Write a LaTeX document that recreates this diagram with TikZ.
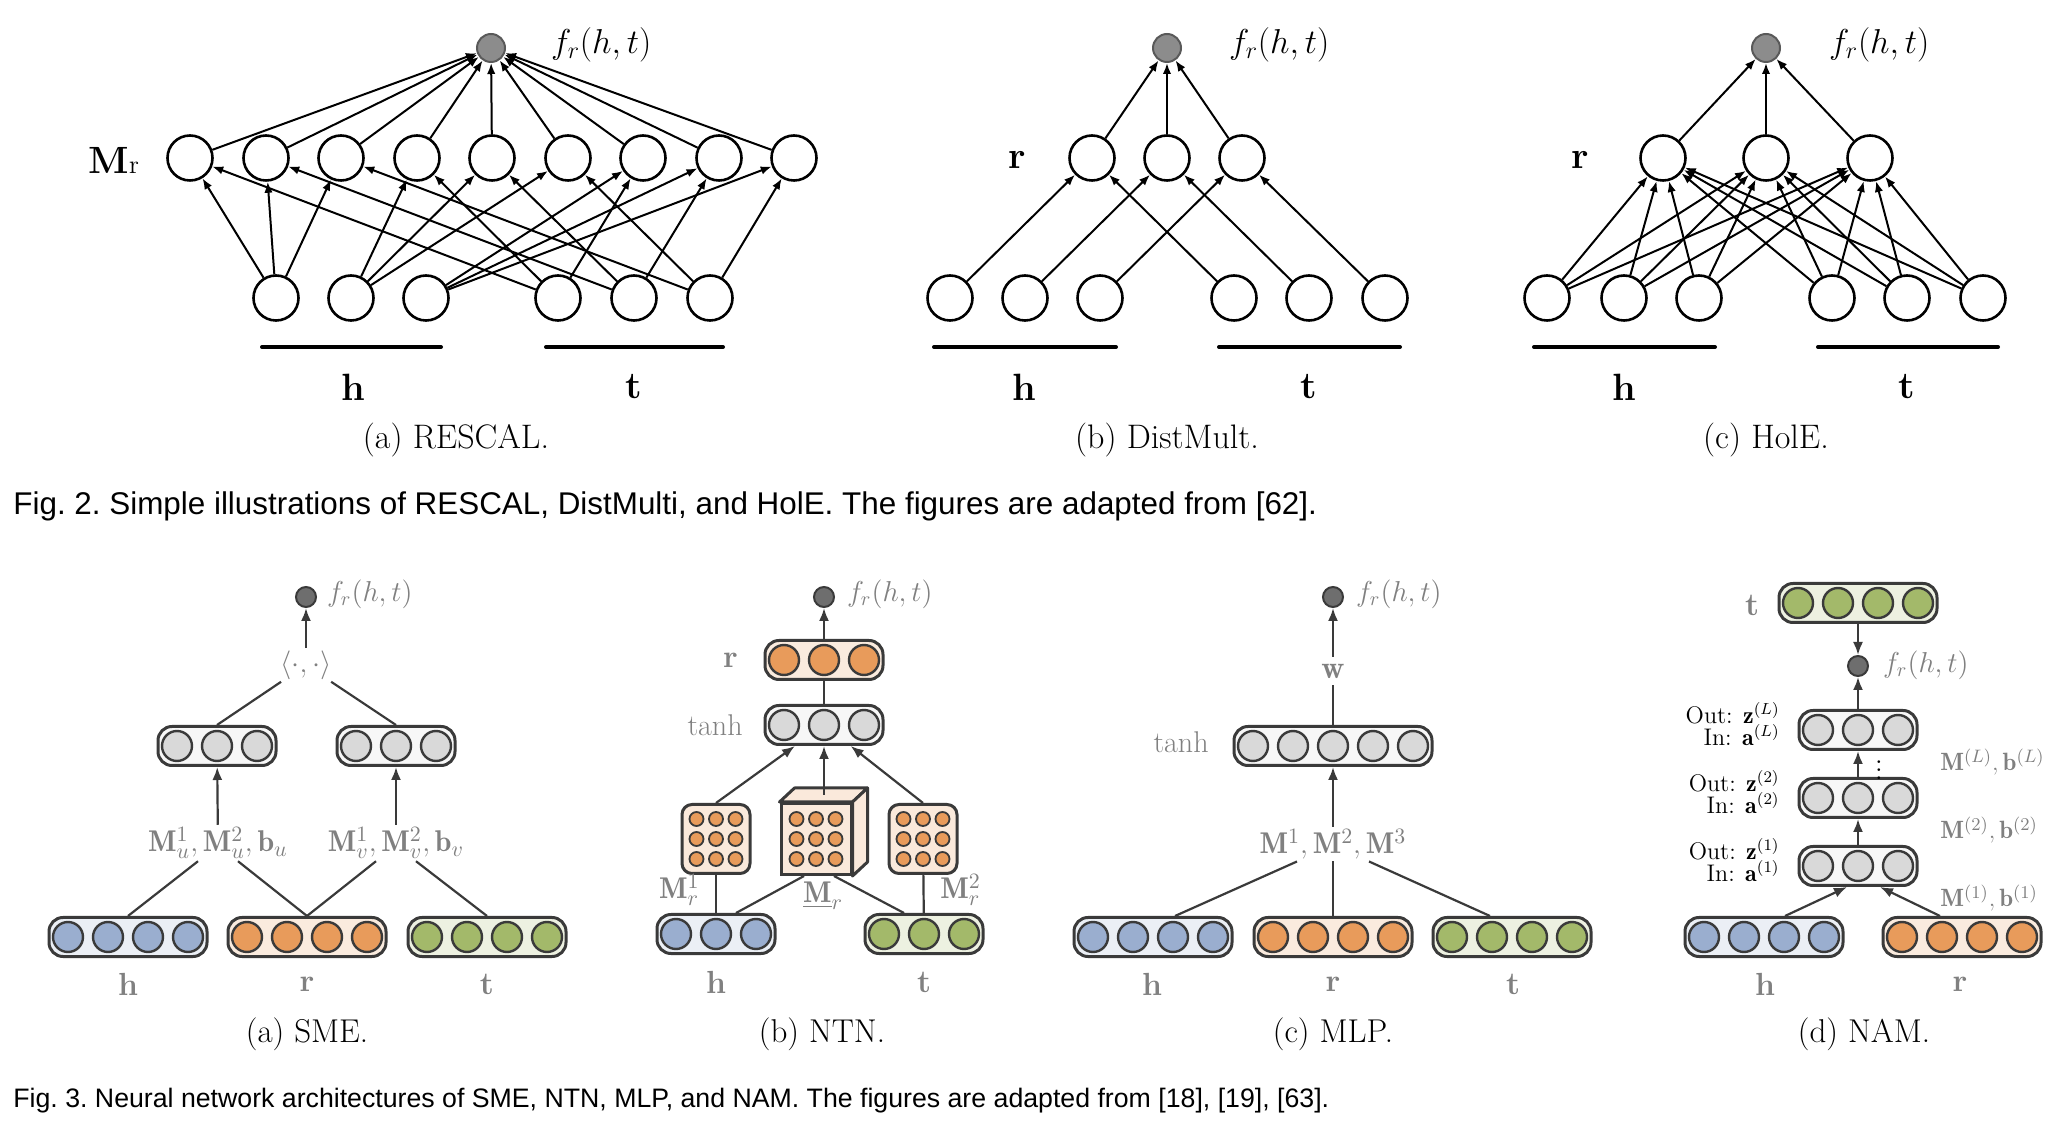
\documentclass[tikz,border=0pt]{standalone}
\usepackage{amsmath}
\usepackage{fontspec}
\newfontfamily\capfont{Liberation Sans}
\usepackage{xcolor}
\usepackage{tikz}
\usetikzlibrary{arrows.meta,calc,positioning}

\definecolor{edgegray}{HTML}{3A3A3A}
\definecolor{txtgray}{HTML}{808080}
\definecolor{hblue}{HTML}{9AAECF}
\definecolor{rorange}{HTML}{E89B5B}
\definecolor{tgreen}{HTML}{A3B96A}
\definecolor{lgray}{HTML}{D9D9D9}
\definecolor{outgray}{HTML}{6E6E6E}

\tikzset{
  unit/.style={circle, draw=black, line width=1.3pt, minimum size=22.5pt, inner sep=0pt},
  topout/.style={circle, draw=black!65, fill=black!45, line width=1pt, minimum size=14pt, inner sep=0pt},
  link/.style={line width=1pt, -{Latex[length=5.5pt,width=4.2pt]}},
  toplbl/.style={font=\fontsize{19}{22}\selectfont\bfseries},
  topf/.style={font=\fontsize{17}{20}\selectfont},
  topcap/.style={font=\fontsize{17}{20}\selectfont},
  subcap/.style={font=\fontsize{16.5}{19}\selectfont},
  figcap/.style={font=\capfont\frenchspacing\fontsize{#1}{18}\selectfont, anchor=west, inner sep=0pt},
  vbox/.style={rectangle, rounded corners=7pt, draw=edgegray, line width=1.5pt, minimum height=19.5pt, inner sep=0pt},
  vdot/.style={circle, draw=edgegray, line width=1.2pt, minimum size=15pt, inner sep=0pt},
  mbox/.style={rectangle, rounded corners=5pt, draw=edgegray, line width=1.5pt, fill=rorange!22, minimum width=34pt, minimum height=34.5pt, inner sep=0pt},
  mdot/.style={circle, draw=edgegray, line width=0.9pt, fill=rorange, minimum size=7pt, inner sep=0pt},
  cubeface/.style={draw=edgegray, line width=1.5pt, fill=rorange!22, line join=round},
  botout/.style={circle, draw=edgegray, fill=outgray, line width=1pt, minimum size=10pt, inner sep=0pt},
  flow/.style={draw=edgegray, line width=1.1pt, -{Latex[length=6.5pt,width=5pt]}},
  wire/.style={draw=edgegray, line width=1.1pt},
  blbl/.style={font=\fontsize{16}{19}\selectfont\bfseries, text=txtgray},
  bf/.style={font=\fontsize{14.5}{17}\selectfont, text=txtgray},
  wlbl/.style={font=\fontsize{15}{18}\selectfont, text=txtgray, inner sep=1pt},
}

\newcommand{\vecbox}[5]{% name, x, y, units, colour
  \node[vbox, minimum width=#4*20pt-1pt, fill=#5!20] (#1) at (#2,#3) {};
  \foreach \k in {1,...,#4}
    \node[vdot, fill=#5] (#1-\k) at ({#2+(\k-(#4+1)/2)*40},#3) {};
}
\newcommand{\dotgrid}[3]{% name, x, y
  \foreach \a [count=\p] in {-1,0,1}
    \foreach \b [count=\q] in {-1,0,1}
      \node[mdot] (#1-\p\q) at ({#2+\a*19.5},{#3+\b*20}) {};
}

\begin{document}
\begin{tikzpicture}[x=0.5pt, y=-0.5pt]
  \useasboundingbox (0,0) rectangle (2058,1138);

  % (a) RESCAL
  \node[topout] (ra-o) at (491,48) {};
  \node[topf, anchor=west] (ra-f) at (544,45) {$f_r(h,t)$};
  \foreach \x [count=\k] in {190,266,341,417,492,568,643,719,794}
    \node[unit] (ra-m\k) at (\x,158) {};
  \foreach \x [count=\k] in {276,351,426}
    \node[unit] (ra-h\k) at (\x,298) {};
  \foreach \x [count=\k] in {558,634,710}
    \node[unit] (ra-t\k) at (\x,298) {};
  \foreach \k in {1,...,9}
    \draw[link] (ra-m\k) -- (ra-o);
  \foreach \i in {1,2,3}
    \foreach \j in {1,2,3} {
      \pgfmathtruncatemacro\m{3*(\i-1)+\j}
      \draw[link] (ra-h\i) -- (ra-m\m);
      \draw[link] (ra-t\j) -- (ra-m\m);
    }
  \node[toplbl, anchor=east] (ra-ml) at (146,160) {M\textmd{\fontsize{13}{13}\selectfont r}};
  \draw[line width=2pt, line cap=round] (262,347) -- (441,347);
  \draw[line width=2pt, line cap=round] (546,347) -- (723,347);
  \node[toplbl] (ra-hl) at (353,387) {h};
  \node[toplbl] (ra-tl) at (634,387) {t};
  \node[topcap] (ra-cap) at (456,440) {(a) RESCAL.};

  % (b) DistMult
  \node[topout] (dm-o) at (1167,48) {};
  \node[topf, anchor=west] (dm-f) at (1222,45) {$f_r(h,t)$};
  \foreach \x [count=\k] in {1092,1167,1242}
    \node[unit] (dm-r\k) at (\x,158) {};
  \foreach \x [count=\k] in {950,1025,1100}
    \node[unit] (dm-h\k) at (\x,298) {};
  \foreach \x [count=\k] in {1234,1309,1385}
    \node[unit] (dm-t\k) at (\x,298) {};
  \foreach \k in {1,2,3} {
    \draw[link] (dm-r\k) -- (dm-o);
    \draw[link] (dm-h\k) -- (dm-r\k);
    \draw[link] (dm-t\k) -- (dm-r\k);
  }
  \node[toplbl] (dm-rl) at (1017,160) {r};
  \draw[line width=2pt, line cap=round] (934,347) -- (1116,347);
  \draw[line width=2pt, line cap=round] (1219,347) -- (1400,347);
  \node[toplbl] (dm-hl) at (1024,387) {h};
  \node[toplbl] (dm-tl) at (1309,387) {t};
  \node[topcap] (dm-cap) at (1167,440) {(b) DistMult.};

  % (c) HolE
  \node[topout] (ho-o) at (1766,48) {};
  \node[topf, anchor=west] (ho-f) at (1822,45) {$f_r(h,t)$};
  \foreach \x [count=\k] in {1663,1766,1870}
    \node[unit] (ho-r\k) at (\x,158) {};
  \foreach \x [count=\k] in {1547,1624,1699}
    \node[unit] (ho-h\k) at (\x,298) {};
  \foreach \x [count=\k] in {1832,1907,1983}
    \node[unit] (ho-t\k) at (\x,298) {};
  \foreach \k in {1,2,3} {
    \draw[link] (ho-r\k) -- (ho-o);
    \foreach \j in {1,2,3} {
      \draw[link] (ho-h\j) -- (ho-r\k);
      \draw[link] (ho-t\j) -- (ho-r\k);
    }
  }
  \node[toplbl] (ho-rl) at (1580,160) {r};
  \draw[line width=2pt, line cap=round] (1534,347) -- (1715,347);
  \draw[line width=2pt, line cap=round] (1818,347) -- (1998,347);
  \node[toplbl] (ho-hl) at (1624,387) {h};
  \node[toplbl] (ho-tl) at (1907,387) {t};
  \node[topcap] (ho-cap) at (1766,440) {(c) HolE.};

  \node[figcap=15.7] (fig2) at (13,506) {Fig. 2. Simple illustrations of RESCAL, DistMulti, and HolE. The figures are adapted from [62].};

  % (a) SME
  \node[botout] (sm-o) at (306,597) {};
  \node[bf, anchor=west] (sm-f) at (320,594) {$f_r(h,t)$};
  \node[wlbl] (sm-dot) at (306,665) {$\langle\cdot,\cdot\rangle$};
  \vecbox{sm-u}{217}{746}{3}{lgray}
  \vecbox{sm-v}{396}{746}{3}{lgray}
  \node[wlbl] (sm-lu) at (218,843) {$\mathbf{M}_u^1,\mathbf{M}_u^2,\mathbf{b}_u$};
  \node[wlbl] (sm-lv) at (396,843) {$\mathbf{M}_v^1,\mathbf{M}_v^2,\mathbf{b}_v$};
  \vecbox{sm-h}{128}{937}{4}{hblue}
  \vecbox{sm-r}{307}{937}{4}{rorange}
  \vecbox{sm-t}{487}{937}{4}{tgreen}
  \draw[flow] (sm-dot) -- (sm-o);
  \draw[wire] (sm-dot) -- (sm-u.north);
  \draw[wire] (sm-dot) -- (sm-v.north);
  \draw[flow] (sm-lu) -- (sm-u);
  \draw[flow] (sm-lv) -- (sm-v);
  \draw[wire] ($(sm-lu.south)+(-20,0)$) -- (sm-h.north);
  \draw[wire] ($(sm-lu.south)+(20,0)$) -- (sm-r.north);
  \draw[wire] ($(sm-lv.south)+(-20,0)$) -- (sm-r.north);
  \draw[wire] ($(sm-lv.south)+(20,0)$) -- (sm-t.north);
  \node[blbl] (sm-hl) at (128,984) {h};
  \node[blbl] (sm-rl) at (307,984) {r};
  \node[blbl] (sm-tl) at (487,984) {t};
  \node[subcap] (sm-cap) at (307,1034) {(a) SME.};

  % (b) NTN
  \node[botout] (nt-o) at (824,597) {};
  \node[bf, anchor=west] (nt-f) at (840,594) {$f_r(h,t)$};
  \vecbox{nt-r}{824}{660}{3}{rorange}
  \vecbox{nt-g}{824}{725}{3}{lgray}
  \node[blbl, anchor=east] (nt-rl) at (745,660) {r};
  \node[wlbl, anchor=east] (nt-gl) at (745,725) {tanh};
  \node[mbox] (nt-m1) at (716,839) {};
  \dotgrid{nt-m1}{716}{839}
  \node[mbox] (nt-m2) at (923,839) {};
  \dotgrid{nt-m2}{923}{839}
  \node[rectangle, draw=edgegray, line width=1.5pt, fill=rorange!22, minimum width=35pt, minimum height=35.5pt, inner sep=0pt] (nt-c) at (816,839) {};
  \draw[cubeface] (nt-c.north west) -- ++(15,-14) -- ($(nt-c.north east)+(15,-14)$) -- (nt-c.north east) -- cycle;
  \draw[cubeface] (nt-c.north east) -- ++(15,-14) -- ($(nt-c.south east)+(15,-14)$) -- (nt-c.south east) -- cycle;
  \dotgrid{nt-c}{816}{839}
  \vecbox{nt-h}{716}{934}{3}{hblue}
  \vecbox{nt-t}{924}{934}{3}{tgreen}
  \draw[flow] (nt-r) -- (nt-o);
  \draw[wire] (nt-g) -- (nt-r);
  \draw[flow] (nt-m1.north) -- (nt-g);
  \draw[flow] ($(nt-c.north)+(8,-7)$) -- (nt-g);
  \draw[flow] (nt-m2.north) -- (nt-g);
  \draw[wire] (nt-m1) -- (nt-h);
  \draw[wire] (nt-m2) -- (nt-t);
  \draw[wire] ($(nt-c.south)+(-12,0)$) -- ($(nt-h.north)+(20,0)$);
  \draw[wire] ($(nt-c.south)+(18,0)$) -- ($(nt-t.north)+(-20,0)$);
  \node[wlbl, anchor=east] (nt-l1) at (702,890) {$\mathbf{M}_r^1$};
  \node[wlbl] (nt-lc) at (823,896) {$\underline{\mathbf{M}}_r$};
  \node[wlbl, anchor=west] (nt-l2) at (938,890) {$\mathbf{M}_r^2$};
  \node[blbl] (nt-hl) at (716,982) {h};
  \node[blbl] (nt-tl) at (924,982) {t};
  \node[subcap] (nt-cap) at (822,1034) {(b) NTN.};

  % (c) MLP
  \node[botout] (ml-o) at (1333,597) {};
  \node[bf, anchor=west] (ml-f) at (1349,594) {$f_r(h,t)$};
  \node[blbl] (ml-w) at (1333,671) {$\mathbf{w}$};
  \vecbox{ml-g}{1333}{746}{5}{lgray}
  \node[wlbl, anchor=east] (ml-gl) at (1211,742) {tanh};
  \node[wlbl] (ml-l) at (1333,844) {$\mathbf{M}^1,\mathbf{M}^2,\mathbf{M}^3$};
  \vecbox{ml-h}{1153}{937}{4}{hblue}
  \vecbox{ml-r}{1333}{937}{4}{rorange}
  \vecbox{ml-t}{1512}{937}{4}{tgreen}
  \draw[flow] (ml-w) -- (ml-o);
  \draw[wire] (ml-g) -- (ml-w);
  \draw[flow] (ml-l) -- (ml-g);
  \draw[wire] ($(ml-l.south)+(-36,0)$) -- ($(ml-h.north)+(22,0)$);
  \draw[wire] (ml-l) -- (ml-r);
  \draw[wire] ($(ml-l.south)+(36,0)$) -- ($(ml-t.north)+(-22,0)$);
  \node[blbl] (ml-hl) at (1152,984) {h};
  \node[blbl] (ml-rl) at (1333,984) {r};
  \node[blbl] (ml-tl) at (1513,984) {t};
  \node[subcap] (ml-cap) at (1333,1034) {(c) MLP.};

  % (d) NAM
  \vecbox{na-t}{1858}{603}{4}{tgreen}
  \node[blbl] (na-tl) at (1752,605) {t};
  \node[botout] (na-o) at (1858,666) {};
  \node[bf, anchor=west] (na-f) at (1876,665) {$f_r(h,t)$};
  \vecbox{na-L}{1858}{730}{3}{lgray}
  \vecbox{na-2}{1858}{798}{3}{lgray}
  \vecbox{na-1}{1858}{866}{3}{lgray}
  \node[inner sep=0pt] (na-dots) at (1879,764) {\fontsize{14}{14}\selectfont$\vdots$};
  \draw[flow] (na-t) -- (na-o);
  \draw[flow] (na-L) -- (na-o);
  \draw[flow] (na-2) -- (na-L);
  \draw[flow] (na-1) -- (na-2);
  \foreach \s/\y in {L/724,2/792,1/860}
    \node[font=\fontsize{12}{11}\selectfont, align=right, anchor=east, inner sep=1pt] (na-io\s) at (1782,\y)
      {Out: $\mathbf{z}^{(\s)}$\\In: $\mathbf{a}^{(\s)}$};
  \foreach \s/\y in {L/762,2/830,1/898}
    \node[wlbl, font=\fontsize{12.5}{15}\selectfont, anchor=west] (na-m\s) at (1938,\y)
      {$\mathbf{M}^{(\s)},\mathbf{b}^{(\s)}$};
  \vecbox{na-h}{1764}{937}{4}{hblue}
  \vecbox{na-r}{1962}{937}{4}{rorange}
  \draw[flow] ($(na-h.north)+(21,0)$) -- ($(na-1.south)+(-11,0)$);
  \draw[flow] ($(na-r.north)+(-22,0)$) -- ($(na-1.south)+(22,0)$);
  \node[blbl] (na-hl) at (1765,984) {h};
  \node[blbl] (na-rl) at (1960,984) {r};
  \node[subcap] (na-cap) at (1864,1034) {(d) NAM.};

  \node[figcap=13.35] (fig3) at (13,1101) {Fig. 3. Neural network architectures of SME, NTN, MLP, and NAM. The figures are adapted from [18], [19], [63].};
\end{tikzpicture}
\end{document}
